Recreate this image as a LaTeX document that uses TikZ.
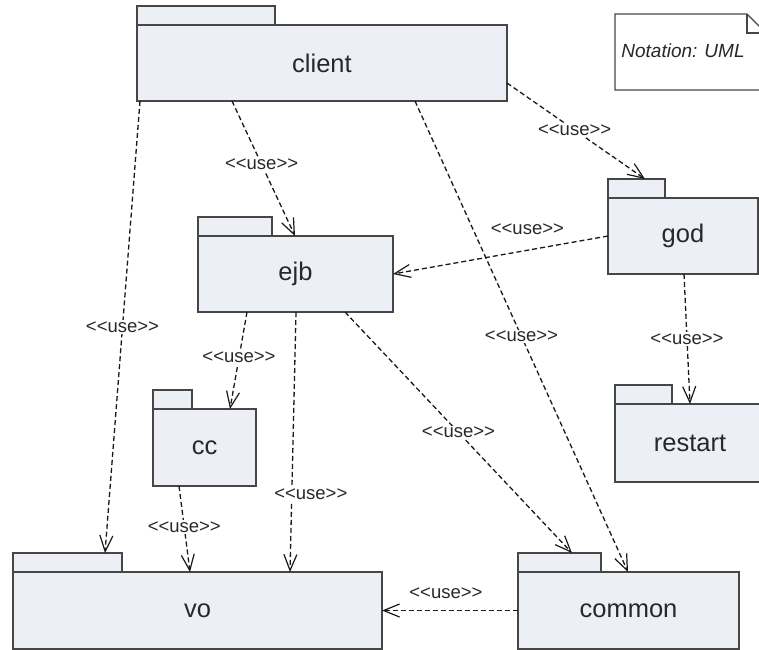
\documentclass[tikz,border=0pt]{standalone}
\usepackage{fontspec}
\setmainfont{Liberation Sans}
\usetikzlibrary{arrows.meta,calc}
\definecolor{pkgfill}{RGB}{236,239,245}
\definecolor{pkgline}{RGB}{70,70,70}
\definecolor{txt}{RGB}{40,40,40}
\definecolor{depline}{RGB}{25,25,25}
\newcommand\uselbl{<{}<use>{}>}
\begin{document}
\begin{tikzpicture}[x=1pt,y=-1pt,
  pkg/.style={draw=pkgline,fill=pkgfill,line width=1.6pt,inner sep=0pt,outer sep=0pt,anchor=north west,text=txt,font=\fontsize{25.5}{30}\selectfont},
  pkgtab/.style={draw=pkgline,fill=pkgfill,line width=1.6pt,inner sep=0pt,outer sep=0pt,anchor=south west,minimum height=19pt},
  dep/.style={draw=depline,line width=1.3pt,dash pattern=on 5pt off 3pt,-{Straight Barb[length=16pt,width=13pt,line width=1.2pt]}},
  lbl/.style={fill=white,inner sep=1.5pt,text=txt,font=\fontsize{18.5}{21}\selectfont},
  lblfree/.style={inner sep=1.5pt,text=txt,font=\fontsize{18.5}{21}\selectfont},
  notetext/.style={inner sep=0pt,text=txt,font=\fontsize{19}{22}\selectfont\itshape}]
\useasboundingbox (0,0) rectangle (759,649);
% note
\draw[draw=pkgline,fill=white,line width=1.4pt] (615,14) -- (747,14) -- (766,33) -- (766,90) -- (615,90) -- cycle;
\draw[draw=pkgline,line width=1.4pt] (747,14) -- (747,33) -- (766,33);
\node[notetext] (note) at (683,51) {Notation: UML};
% packages
\node[pkg,minimum width=370pt,minimum height=76pt] (client) at (137,25) {client};
\node[pkgtab,minimum width=138pt] (clienttab) at (client.north west) {};
\node[pkg,minimum width=195pt,minimum height=76pt] (ejb) at (198,236) {ejb};
\node[pkgtab,minimum width=74pt] (ejbtab) at (ejb.north west) {};
\node[pkg,minimum width=150pt,minimum height=76pt] (god) at (608,198) {god};
\node[pkgtab,minimum width=57pt] (godtab) at (god.north west) {};
\node[pkg,minimum width=150pt,minimum height=78pt] (restart) at (615,404) {restart};
\node[pkgtab,minimum width=57pt] (restarttab) at (restart.north west) {};
\node[pkg,minimum width=103pt,minimum height=77pt] (cc) at (153,409) {cc};
\node[pkgtab,minimum width=39pt] (cctab) at (cc.north west) {};
\node[pkg,minimum width=369pt,minimum height=77pt] (vo) at (13,572) {vo};
\node[pkgtab,minimum width=109pt] (votab) at (vo.north west) {};
\node[pkg,minimum width=221pt,minimum height=77pt] (common) at (518,572) {common};
\node[pkgtab,minimum width=83pt] (commontab) at (common.north west) {};
% dependencies
\draw[dep] ([xshift=95pt]client.south west) -- node[lbl,pos=0.47] {\uselbl} ([xshift=97pt]ejb.north west);
\draw[dep] ([yshift=-58pt]client.north east) -- node[lbl,pos=0.49] {\uselbl} ([xshift=37pt]godtab.north west);
\draw[dep] ([xshift=3pt]client.south west) -- node[lbl,pos=0.50] {\uselbl} ([xshift=92pt]votab.north west);
\draw[dep] ([xshift=278pt]client.south west) -- node[lbl,pos=0.50] {\uselbl} ([xshift=110pt]common.north west);
\draw[dep] (god.west) -- node[lblfree,pos=0.375,yshift=21pt] {\uselbl} (ejb.east);
\draw[dep] ([xshift=76pt]god.south west) -- node[lbl,pos=0.50] {\uselbl} ([xshift=75pt]restart.north west);
\draw[dep] ([xshift=49pt]ejb.south west) -- node[lbl,pos=0.47] {\uselbl} ([xshift=77pt]cc.north west);
\draw[dep] ([xshift=98pt]ejb.south west) -- node[lbl,pos=0.70,xshift=19pt] {\uselbl} ([xshift=277pt]vo.north west);
\draw[dep] ([xshift=147pt]ejb.south west) -- node[lbl,pos=0.50] {\uselbl} ([xshift=54pt]commontab.north west);
\draw[dep] ([xshift=26pt]cc.south west) -- node[lbl,pos=0.48] {\uselbl} ([xshift=177pt]vo.north west);
\draw[dep] (common.west) -- node[lblfree,pos=0.53,yshift=17pt] {\uselbl} (vo.east);
\end{tikzpicture}
\end{document}
